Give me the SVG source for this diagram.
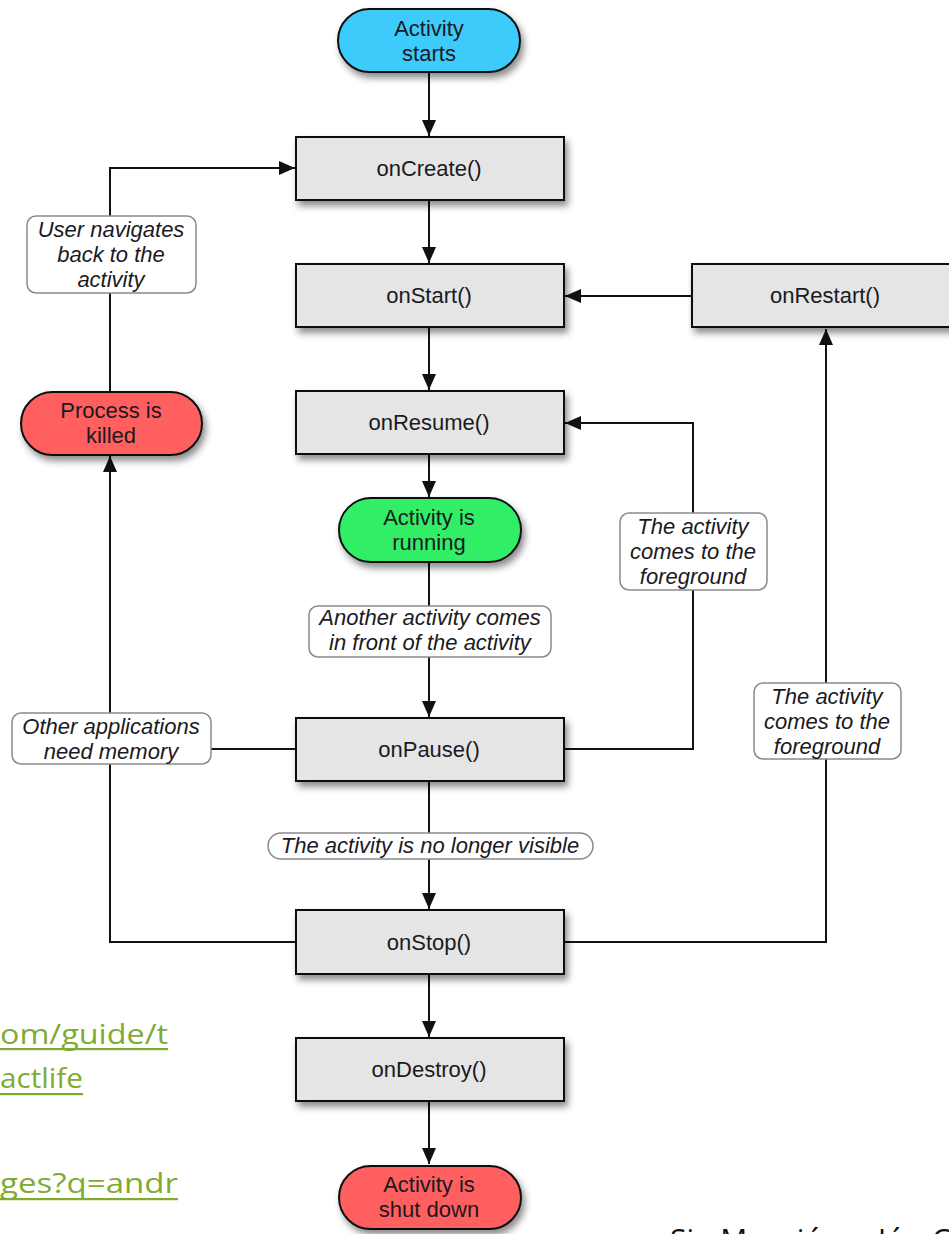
<svg xmlns="http://www.w3.org/2000/svg" width="949" height="1234" viewBox="0 0 949 1234">
<style>
.box{fill:#e5e5e5;stroke:#111;stroke-width:2}
.pill{stroke:#111;stroke-width:2}
.lbl{fill:#fff;stroke:#8a8a8a;stroke-width:1.5}
.t{font-family:"Liberation Sans",Arial,sans-serif;font-size:22px;fill:#1a1a22;text-anchor:middle}
.i{font-style:italic}
.c{fill:none;stroke:#111;stroke-width:2}
.link{font-family:"Open Sans","Liberation Sans",sans-serif;font-size:28px;fill:#7fab32}
.foot{font-family:"Open Sans","Liberation Sans",sans-serif;font-size:30px;fill:#111}
</style>
<defs>
<filter id="sh" x="-20%" y="-30%" width="140%" height="170%">
<feDropShadow dx="3" dy="5" stdDeviation="3.5" flood-color="#000" flood-opacity="0.45"/>
</filter>
<marker id="ar" markerUnits="userSpaceOnUse" markerWidth="16" markerHeight="14" refX="16" refY="7" orient="auto">
<path d="M0,0 L16,7 L0,14 z" fill="#111"/>
</marker>
</defs>

<g id="connectors">
<path class="c" d="M429,72 V136" marker-end="url(#ar)"/>
<path class="c" d="M429,200 V263" marker-end="url(#ar)"/>
<path class="c" d="M429,327 V390" marker-end="url(#ar)"/>
<path class="c" d="M429,454 V497" marker-end="url(#ar)"/>
<path class="c" d="M429,562 V717" marker-end="url(#ar)"/>
<path class="c" d="M429,781 V909" marker-end="url(#ar)"/>
<path class="c" d="M429,973 V1037" marker-end="url(#ar)"/>
<path class="c" d="M429,1101 V1164" marker-end="url(#ar)"/>
<path class="c" d="M692,296 H565" marker-end="url(#ar)"/>
<path class="c" d="M564,942 H826 V329" marker-end="url(#ar)"/>
<path class="c" d="M564,749 H693 V423 H565" marker-end="url(#ar)"/>
<path class="c" d="M296,942 H110 V456" marker-end="url(#ar)"/>
<path class="c" d="M296,749 H110"/>
<path class="c" d="M110,391 V168 H295" marker-end="url(#ar)"/>
</g>

<g id="start">
<rect class="pill" x="338" y="9" width="182" height="63" rx="31.5" fill="#3ccbfb" filter="url(#sh)"/>
<text class="t" x="429" y="36">Activity</text>
<text class="t" x="429" y="61">starts</text>
</g>
<g id="onCreate">
<rect class="box" x="296" y="137" width="268" height="63" filter="url(#sh)"/>
<text class="t" x="429" y="176">onCreate()</text>
</g>
<g id="onStart">
<rect class="box" x="296" y="264" width="268" height="63" filter="url(#sh)"/>
<text class="t" x="429" y="303">onStart()</text>
</g>
<g id="onRestart">
<rect class="box" x="692" y="264" width="262" height="63" filter="url(#sh)"/>
<text class="t" x="825" y="303">onRestart()</text>
</g>
<g id="onResume">
<rect class="box" x="296" y="391" width="268" height="63" filter="url(#sh)"/>
<text class="t" x="429" y="430">onResume()</text>
</g>
<g id="running">
<rect class="pill" x="339" y="498" width="182" height="64" rx="32" fill="#30ee66" filter="url(#sh)"/>
<text class="t" x="429" y="525">Activity is</text>
<text class="t" x="429" y="550">running</text>
</g>
<g id="onPause">
<rect class="box" x="296" y="718" width="268" height="63" filter="url(#sh)"/>
<text class="t" x="429" y="757">onPause()</text>
</g>
<g id="onStop">
<rect class="box" x="296" y="910" width="268" height="64" filter="url(#sh)"/>
<text class="t" x="429" y="950">onStop()</text>
</g>
<g id="onDestroy">
<rect class="box" x="296" y="1038" width="268" height="63" filter="url(#sh)"/>
<text class="t" x="429" y="1077">onDestroy()</text>
</g>
<g id="shutdown">
<rect class="pill" x="339" y="1166" width="182" height="63" rx="31.5" fill="#ff5f5f" filter="url(#sh)"/>
<text class="t" x="429" y="1192">Activity is</text>
<text class="t" x="429" y="1217">shut down</text>
</g>
<g id="killed">
<rect class="pill" x="21" y="392" width="181" height="63" rx="31.5" fill="#ff5f5f" filter="url(#sh)"/>
<text class="t" x="111" y="418">Process is</text>
<text class="t" x="111" y="443">killed</text>
</g>

<g id="label-user">
<rect class="lbl" x="27" y="216" width="169" height="77" rx="9"/>
<text class="t i" x="111" y="237">User navigates</text>
<text class="t i" x="111" y="262">back to the</text>
<text class="t i" x="111" y="287">activity</text>
</g>
<g id="label-another">
<rect class="lbl" x="309" y="606" width="242" height="51" rx="9"/>
<text class="t i" x="430" y="625">Another activity comes</text>
<text class="t i" x="430" y="650">in front of the activity</text>
</g>
<g id="label-memory">
<rect class="lbl" x="12" y="713" width="199" height="51" rx="9"/>
<text class="t i" x="111" y="734">Other applications</text>
<text class="t i" x="111" y="759">need memory</text>
</g>
<g id="label-fg1">
<rect class="lbl" x="620" y="513" width="147" height="77" rx="9"/>
<text class="t i" x="693" y="534">The activity</text>
<text class="t i" x="693" y="559">comes to the</text>
<text class="t i" x="693" y="584">foreground</text>
</g>
<g id="label-fg2">
<rect class="lbl" x="754" y="683" width="147" height="76" rx="9"/>
<text class="t i" x="827" y="704">The activity</text>
<text class="t i" x="827" y="729">comes to the</text>
<text class="t i" x="827" y="754">foreground</text>
</g>
<g id="label-visible">
<rect class="lbl" x="268" y="833" width="325" height="26" rx="13"/>
<text class="t i" x="430" y="853">The activity is no longer visible</text>
</g>

<g id="links">
<text class="link" x="0" y="1044" textLength="168" lengthAdjust="spacingAndGlyphs">om/guide/t</text>
<rect x="0" y="1048" width="168" height="2.2" fill="#7fab32"/>
<text class="link" x="0" y="1088" textLength="83" lengthAdjust="spacingAndGlyphs">actlife</text>
<rect x="0" y="1093" width="83" height="2.2" fill="#7fab32"/>
<text class="link" x="0" y="1193" textLength="178" lengthAdjust="spacingAndGlyphs">ges?q=andr</text>
<rect x="0" y="1198" width="178" height="2.2" fill="#7fab32"/>
</g>
<g id="footer">
<text class="foot" y="1250"><tspan x="670">Sin Mención</tspan><tspan x="878">Jó</tspan><tspan x="932">C</tspan></text>
</g>
</svg>
